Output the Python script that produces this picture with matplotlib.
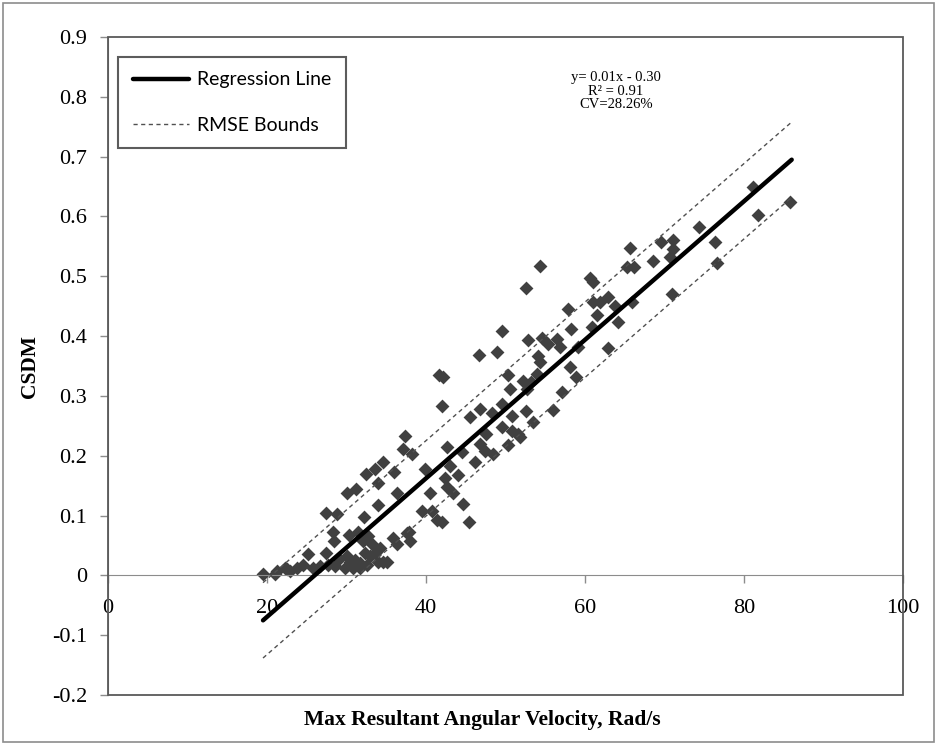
import matplotlib.pyplot as plt
from matplotlib.patches import Rectangle
import numpy as np

# scatter data (max resultant angular velocity, CSDM)
vel = [
    85.8, 81.1, 81.8, 74.3, 76.4, 76.6, 71.1, 69.6, 65.7, 71.1, 68.6, 70.7, 70.9,
    65.3, 66.2, 65.9, 64.2, 54.3, 52.6, 60.6, 61.0, 57.9, 61.0, 61.9, 62.9, 61.5,
    63.8, 60.9, 58.2, 49.6, 52.8, 54.6, 55.3, 56.5, 56.9, 59.1, 62.9, 54.1, 54.3,
    50.3, 58.1, 58.9, 52.2, 50.6, 52.7, 54.0, 57.1, 56.0, 52.6, 50.8, 53.5, 50.8,
    51.6, 46.7, 48.9, 41.6, 42.1, 42.0, 46.8, 45.5, 49.6, 48.3, 53.2, 49.6, 47.5,
    37.4, 37.1, 38.2, 42.6, 44.5, 46.8, 47.4, 48.4, 50.3, 51.8, 39.9, 43.0, 46.2,
    42.4, 44.0, 40.5, 42.6, 43.4, 44.7, 39.5, 40.8, 45.4, 41.4, 42.0, 37.9, 38.0,
    35.8, 34.6, 33.6, 32.5, 36.0, 34.0, 30.1, 31.2, 36.4, 34.0, 27.4, 28.8, 32.2,
    28.3, 28.4, 30.3, 31.4, 32.7, 32.1, 33.2, 36.4, 37.6, 25.2, 27.4,
    29.1, 30.1, 30.4, 31.1, 31.7, 32.3, 33.0, 33.6, 34.0, 34.6, 32.6, 31.7, 30.8,
    29.8, 28.6, 27.7, 26.7, 25.8, 24.5, 23.8, 22.9, 22.3, 21.3, 19.5, 34.2, 35.1,
    21.0, 22.5,
]
csdm = [
    0.625, 0.650, 0.603, 0.582, 0.557, 0.523, 0.560, 0.557, 0.548, 0.545, 0.525, 0.533, 0.470,
    0.515, 0.515, 0.457, 0.423, 0.517, 0.480, 0.497, 0.490, 0.445, 0.457, 0.457, 0.465, 0.435,
    0.450, 0.415, 0.412, 0.408, 0.393, 0.397, 0.387, 0.395, 0.382, 0.382, 0.380, 0.367, 0.357,
    0.335, 0.348, 0.332, 0.325, 0.312, 0.312, 0.337, 0.307, 0.277, 0.275, 0.267, 0.257, 0.242,
    0.237, 0.368, 0.373, 0.335, 0.332, 0.283, 0.278, 0.265, 0.287, 0.272, 0.323, 0.248, 0.237,
    0.233, 0.212, 0.203, 0.215, 0.207, 0.220, 0.208, 0.203, 0.218, 0.232, 0.178, 0.183, 0.190,
    0.162, 0.167, 0.137, 0.148, 0.137, 0.120, 0.108, 0.108, 0.090, 0.092, 0.090, 0.072, 0.057,
    0.062, 0.190, 0.178, 0.170, 0.173, 0.155, 0.138, 0.145, 0.138, 0.118, 0.105, 0.102, 0.097,
    0.073, 0.057, 0.068, 0.073, 0.065, 0.057, 0.052, 0.053, 0.070, 0.035, 0.038,
    0.028, 0.032, 0.023, 0.025, 0.020, 0.037, 0.032, 0.037, 0.023, 0.022, 0.017, 0.012, 0.013,
    0.012, 0.015, 0.017, 0.015, 0.013, 0.017, 0.013, 0.008, 0.013, 0.007, 0.003, 0.045, 0.022,
    0.003, 0.010,
]

# regression fit shown on the chart
slope = 0.01158
intercept = -0.301
rmse = 0.063
fit_x = np.array([19.5, 86.0])

x_ticks = [0, 20, 40, 60, 80, 100]
y_ticks = [-0.2, -0.1, 0, 0.1, 0.2, 0.3, 0.4, 0.5, 0.6, 0.7, 0.8, 0.9]

fig = plt.figure(figsize=(9.37, 7.45), dpi=100)
ax = fig.add_axes([108 / 937, 50 / 745, 795 / 937, 658 / 745])

ax.scatter(vel, csdm, marker="D", s=50, color="#404040", linewidths=0, zorder=2)

fit_y = slope * fit_x + intercept
ax.plot(fit_x, fit_y, color="black", linewidth=3.2, solid_capstyle="round",
        label="Regression Line", zorder=4)
ax.plot(fit_x, fit_y + rmse, color="#505050", linewidth=1.0, linestyle=(0, (3, 2.5)),
        label="RMSE Bounds", zorder=3)
ax.plot(fit_x, fit_y - rmse, color="#505050", linewidth=1.0, linestyle=(0, (3, 2.5)),
        zorder=3)

ax.set_xlim(0, 100)
ax.set_ylim(-0.2, 0.9)
ax.set_xticks(x_ticks)
ax.set_yticks(y_ticks)
ax.set_xticklabels([str(v) for v in x_ticks])
ax.set_yticklabels(["0" if v == 0 else f"{v:.1f}" for v in y_ticks])

# x axis crosses at y = 0, plot area keeps its own frame
ax.spines["bottom"].set_position(("data", 0))
ax.spines["bottom"].set_color("#8c8c8c")
ax.spines["left"].set_color("#8c8c8c")
ax.spines["top"].set_visible(False)
ax.spines["right"].set_visible(False)
ax.add_patch(Rectangle((0, 0), 1, 1, transform=ax.transAxes, fill=False,
                       edgecolor="#595959", linewidth=1.3, clip_on=False, zorder=5))

ax.tick_params(axis="both", direction="out", length=6, color="#8c8c8c",
               labelsize=16, width=1)
ax.tick_params(axis="y", pad=9)
ax.tick_params(axis="x", pad=11)
for lab in ax.get_xticklabels() + ax.get_yticklabels():
    lab.set_family("Liberation Serif")

fig.text(30 / 937, 1 - 367 / 745, "CSDM", rotation=90, ha="center", va="center",
         family="Liberation Serif", fontweight="bold", fontsize=15.5)
fig.text(482 / 937, 1 - 720 / 745, "Max Resultant Angular Velocity, Rad/s",
         ha="center", va="center", family="Liberation Serif", fontweight="bold",
         fontsize=15.5)

ax.text(0.639, 0.948, "y= 0.01x - 0.30\nR² = 0.91\nCV=28.26%", transform=ax.transAxes,
        ha="center", va="top", family="Liberation Serif", fontsize=10.5, linespacing=1.05)

leg = ax.legend(loc="upper left", bbox_to_anchor=(0.013, 0.97), frameon=True,
                fancybox=False, prop={"family": "Lato", "size": 14},
                handlelength=2.9, handletextpad=0.4, labelspacing=1.45,
                borderpad=0.75, borderaxespad=0)
leg.get_frame().set_edgecolor("#333333")
leg.get_frame().set_linewidth(1.5)
leg.set_zorder(6)

fig.patches.append(Rectangle((0.003, 0.004), 0.994, 0.992, transform=fig.transFigure,
                             fill=False, edgecolor="#8c8c8c", linewidth=1.2))

fig.savefig("out.png", dpi=100)
